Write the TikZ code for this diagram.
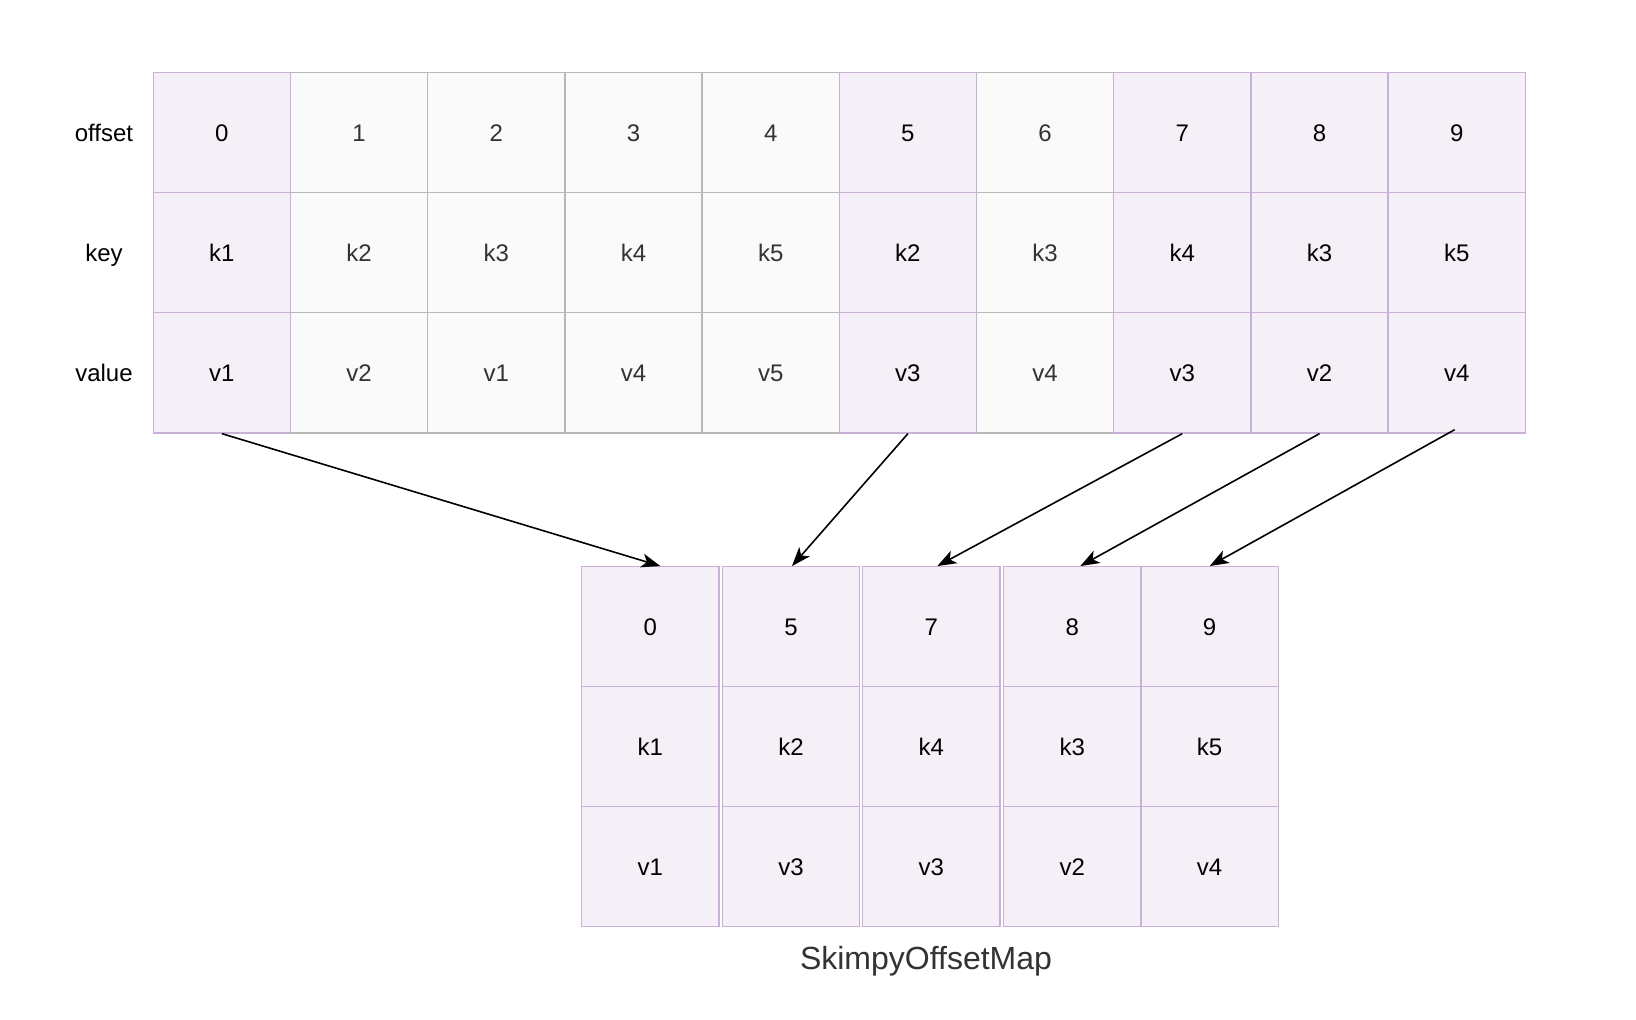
\documentclass[tikz,border=0pt]{standalone}
\usepackage{fontspec}
\setmainfont{Liberation Sans}
\usetikzlibrary{arrows.meta,calc}
\definecolor{pfill}{HTML}{F5F0F8}
\definecolor{pdraw}{HTML}{C8B0D6}
\definecolor{gfill}{HTML}{FAFAFA}
\definecolor{gdraw}{HTML}{B8B8B8}
\definecolor{gtext}{HTML}{333333}
\begin{document}
\begin{tikzpicture}[x=1pt,y=-1pt,
  cell/.style={rectangle, inner sep=0pt, minimum width=137.2pt, minimum height=120.2pt,
    line width=1.3pt, font=\fontsize{24}{28}\selectfont, text height=17pt, text depth=0pt},
  pcell/.style={cell, fill=pfill, draw=pdraw, text=black},
  gcell/.style={cell, fill=gfill, draw=gdraw, text=gtext},
  bcell/.style={pcell, minimum width=137.3pt, minimum height=120pt},
  rowlabel/.style={inner sep=0pt, font=\fontsize{24}{28}\selectfont, text height=17pt, text depth=0pt, text=black},
  link/.style={line width=1.6pt, draw=black, -{Stealth[length=19pt,width=14pt,inset=5pt]}}
]
\useasboundingbox (0,0) rectangle (1636,1020);
\fill[white] (0,0) rectangle (1636,1020);

% row labels
\node[rowlabel] (lo) at (104,132.5) {offset};
\node[rowlabel] (lk) at (104,252.7) {key};
\node[rowlabel] (lv) at (104,372.7) {value};

% top table: grey columns first
\foreach \i/\k/\v in {1/k2/v2, 2/k3/v1, 3/k4/v4, 4/k5/v5, 6/k3/v4}{
  \pgfmathsetmacro{\cx}{153.3+(\i+0.5)*137.2}
  \node[gcell] (o\i) at (\cx,132.5) {\i};
  \node[gcell] (k\i) at (\cx,252.7) {\k};
  \node[gcell] (v\i) at (\cx,372.9) {\v};
}
% purple columns
\foreach \i/\k/\v in {0/k1/v1, 5/k2/v3, 7/k4/v3, 8/k3/v2, 9/k5/v4}{
  \pgfmathsetmacro{\cx}{153.3+(\i+0.5)*137.2}
  \node[pcell] (o\i) at (\cx,132.5) {\i};
  \node[pcell] (k\i) at (\cx,252.7) {\k};
  \node[pcell] (v\i) at (\cx,372.9) {\v};
}

% bottom table (SkimpyOffsetMap)
\foreach \j/\cx/\o/\k/\v in {0/650.35/0/k1/v1, 1/791.0/5/k2/v3, 2/931.35/7/k4/v3, 3/1072.35/8/k3/v2, 4/1209.65/9/k5/v4}{
  \node[bcell] (bo\j) at (\cx,626.7) {\o};
  \node[bcell] (bk\j) at (\cx,746.7) {\k};
  \node[bcell] (bv\j) at (\cx,866.7) {\v};
}

\node[inner sep=0pt, font=\fontsize{32}{38}\selectfont, text=gtext, text height=23pt, text depth=0pt] (title) at (926,957.6) {SkimpyOffsetMap};

% connectors
\draw[link] (v0.south) -- ($(bo0.north)+(10,0)$);
\draw[link] (v5.south) -- ($(bo1.north)+(1,0)$);
\draw[link] (v7.south) -- ($(bo2.north)+(6,0)$);
\draw[link] (v8.south) -- ($(bo3.north)+(8,0)$);
\draw[link] ($(v9.south)+(-2,-4)$) -- ($(bo4.north)+(0,0)$);
\end{tikzpicture}
\end{document}
